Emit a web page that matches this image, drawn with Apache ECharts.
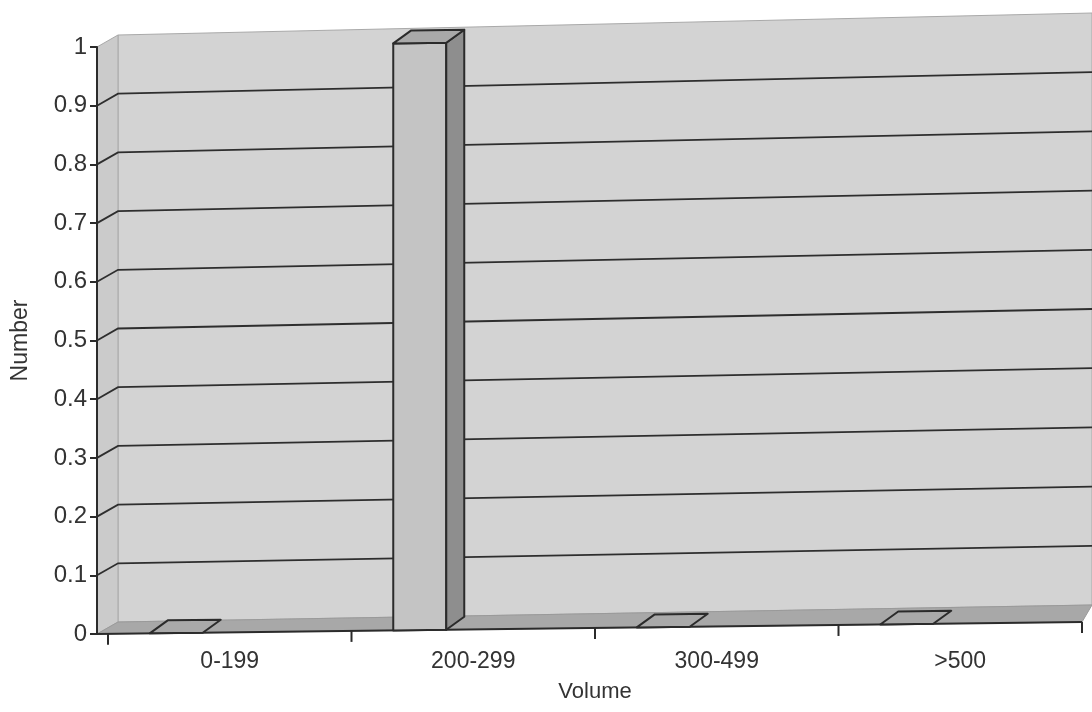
<!DOCTYPE html>
<html>
<head>
<meta charset="utf-8">
<script src="https://cdn.jsdelivr.net/npm/echarts@6/dist/echarts.min.js"></script>
<style>
html,body{margin:0;padding:0;background:#fff;}
#chart{width:1092px;height:712px;}
</style>
</head>
<body>
<div id="chart"></div>
<script>
// ---- data ----
const categories = ['0-199', '200-299', '300-499', '>500'];
const counts = [0, 1, 0, 0];
const gridValues = [0.1, 0.2, 0.3, 0.4, 0.5, 0.6, 0.7, 0.8, 0.9];
const yMin = 0, yMax = 1, yInterval = 0.1;

// ---- 3D-look helpers (layout only) ----
const SIDE_DX = 21, SIDE_DY = -12;   // depth of the side wall / floor
const FRONT_SLOPE = 12;              // front edge rises toward the right
const BACK_SLOPE0 = 17, BACK_SLOPE1 = 5;
function scene(api) {
  const c0 = api.coord([0, 0]);
  const bw = api.size([1, 0])[0];
  const left = c0[0] - bw / 2;
  const right = left + categories.length * bw;
  const FL = left - 11, FR = right;
  const BL = FL + SIDE_DX, BR = FR + 10;
  const yv = v => api.coord([0, v])[1];
  const tx = x => (x - FL) / (FR - FL);
  const front = (x, v) => [x, yv(v) - FRONT_SLOPE * tx(x)];
  const back = (t, v) => [BL + t * (BR - BL), yv(v) + SIDE_DY - (BACK_SLOPE0 + BACK_SLOPE1 * v) * t];
  return {c0, bw, left, right, FL, FR, BL, BR, yv, tx, front, back};
}

const chart = echarts.init(document.getElementById('chart'));
const FONT = 'Liberation Sans, Arial, sans-serif';

const option = {
  backgroundColor: '#ffffff',
  animation: false,
  grid: {left: 108, right: 10, top: 47, bottom: 78},
  xAxis: {
    type: 'category',
    data: categories,
    boundaryGap: true,
    axisLine: {show: false},
    axisTick: {show: false},
    axisLabel: {fontFamily: FONT, fontSize: 23, color: '#333', margin: 16},
    name: 'Volume',
    nameLocation: 'middle',
    nameGap: 47,
    nameTextStyle: {fontFamily: FONT, fontSize: 22, color: '#333'},
    splitLine: {show: false},
    z: 10
  },
  yAxis: {
    type: 'value',
    min: yMin, max: yMax, interval: yInterval,
    offset: 11,
    axisLine: {show: true, lineStyle: {color: '#2b2b2b', width: 2}},
    axisTick: {show: true, length: 7, lineStyle: {color: '#2b2b2b', width: 2}},
    axisLabel: {fontFamily: FONT, fontSize: 24, color: '#333', margin: 10},
    splitLine: {show: false},
    name: 'Number',
    nameLocation: 'middle',
    nameGap: 65,
    nameRotate: 90,
    nameTextStyle: {fontFamily: FONT, fontSize: 23, color: '#333'},
    z: 10
  },
  series: [
    {
      // walls, floor and gridlines
      type: 'custom',
      z: 1,
      silent: true,
      data: [[0, 0]],
      renderItem: function (params, api) {
        const s = scene(api);
        const children = [];
        children.push({type: 'polygon', shape: {points: [s.back(0, 0), s.back(1, 0), s.back(1, 1), s.back(0, 1)]},
          style: {fill: '#d3d3d3', stroke: '#a9a9a9', lineWidth: 1}});
        children.push({type: 'polygon', shape: {points: [s.front(s.FL, 0), s.back(0, 0), s.back(0, 1), s.front(s.FL, 1)]},
          style: {fill: '#cbcbcb', stroke: '#a9a9a9', lineWidth: 1}});
        children.push({type: 'polygon', shape: {points: [s.front(s.FL, 0), s.front(s.FR, 0), s.back(1, 0), s.back(0, 0)]},
          style: {fill: '#a8a8a8', stroke: '#9a9a9a', lineWidth: 1}});
        gridValues.forEach(v => {
          children.push({type: 'polyline', shape: {points: [s.front(s.FL, v), s.back(0, v), s.back(1, v)]},
            style: {fill: null, stroke: '#2e2e2e', lineWidth: 1.8}});
        });
        children.push({type: 'line', shape: {x1: s.FL, y1: s.front(s.FL, 0)[1], x2: s.FR, y2: s.front(s.FR, 0)[1]},
          style: {stroke: '#2b2b2b', lineWidth: 2}});
        for (let k = 0; k <= categories.length; k++) {
          const x = s.left + k * s.bw;
          const y = s.front(x, 0)[1];
          children.push({type: 'line', shape: {x1: x, y1: y, x2: x, y2: y + 11}, style: {stroke: '#2b2b2b', lineWidth: 2}});
        }
        return {type: 'group', children: children};
      }
    },
    {
      // 3D-look bars
      type: 'custom',
      z: 3,
      data: categories.map((c, i) => [i, counts[i]]),
      encode: {x: 0, y: 1},
      renderItem: function (params, api) {
        const s = scene(api);
        const i = api.value(0), v = api.value(1);
        const c = api.coord([i, 0]);
        const xL = c[0] - 80, xR = c[0] - 27;
        const dX = 18, dY = -13;
        const bL = s.front(xL, 0), bR = s.front(xR, 0);
        const tL = s.front(xL, v), tR = s.front(xR, v);
        const stroke = {stroke: '#2b2b2b', lineWidth: 2, lineJoin: 'round'};
        const children = [];
        if (v > 0) {
          children.push({type: 'polygon', shape: {points: [bL, bR, tR, tL]}, style: Object.assign({fill: '#c4c4c4'}, stroke)});
          children.push({type: 'polygon', shape: {points: [bR, [bR[0] + dX, bR[1] + dY], [tR[0] + dX, tR[1] + dY], tR]}, style: Object.assign({fill: '#8e8e8e'}, stroke)});
        }
        children.push({type: 'polygon', shape: {points: [tL, tR, [tR[0] + dX, tR[1] + dY], [tL[0] + dX, tL[1] + dY]]}, style: Object.assign({fill: '#a9a9a9'}, stroke)});
        return {type: 'group', children: children};
      }
    }
  ]
};
chart.setOption(option);
</script>
</body>
</html>
